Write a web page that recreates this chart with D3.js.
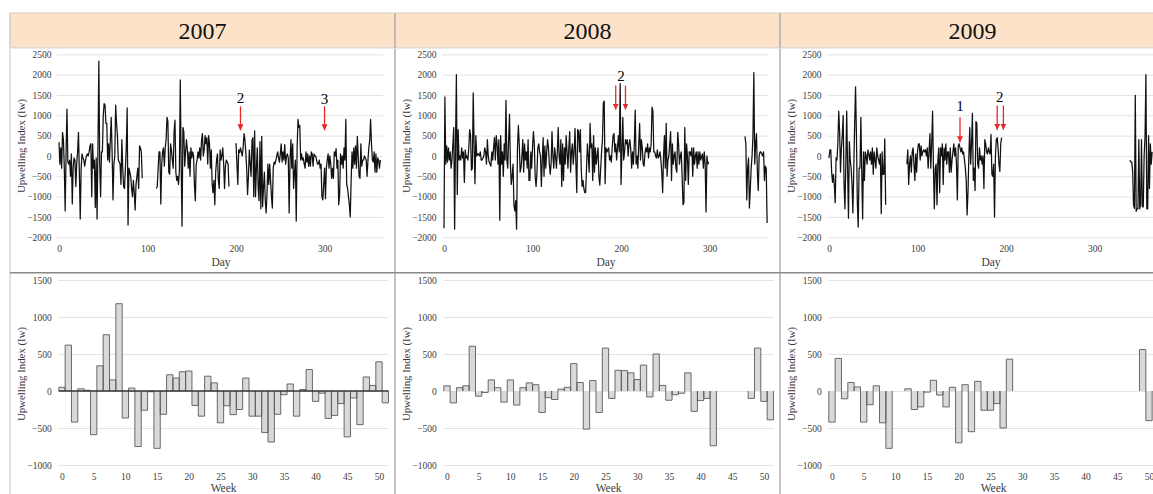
<!DOCTYPE html>
<html>
<head>
<meta charset="utf-8">
<script src="https://cdn.jsdelivr.net/npm/d3@7"></script>
<style>
  html, body { margin: 0; padding: 0; background: #fff; overflow: hidden; }
  svg { display: block; font-family: "Liberation Serif", "Times New Roman", serif; }
  svg text { font-family: "Liberation Serif", "Times New Roman", serif; }
</style>
</head>
<body>
<div id="chart"></div>
<script>
const years = [2007, 2008, 2009];

// daily upwelling index, one value per day from the segment start day
const start2007 = [0, 110, 199];
const daily2007 = [
  [340, -200, 200, -300, 580, 400, -300, -1350, 100, 1150,
   -150, -200, -100, -500, 50, -1180, -300, -50, -100, -750,
   -200, 100, 580, -400, -1550, -300, 50, -50, -100, -250,
   -100, 0, 50, 0, 100, 250, 300, -1000, 300, -300,
   -100, -1270, -50, -1550, 200, 2330, -200, -1000, 100, 100,
   1000, 1290, 1250, 800, 800, -100, 300, -150, 400, 950,
   100, -1080, -200, 0, 1250, 800, 500, -100, -150, -200,
   -700, 400, -300, -750, -800, -300, 200, 1180, -1700, -300,
   -400, -500, -800, -1000, -600, -900, -1330, -700, -500, -300,
   -800, 250, 200, 100, -550],
  [-800, -750, -300, 100, 100, -1180, -200, 100, 200, -250,
   200, 400, 950, 850, -400, -450, 300, 150, -100, -300,
   600, 880, -400, -600, -500, -700, -350, 1870, -200, -1730,
   700, 600, -250, 100, 400, 150, -300, 100, -500, 200,
   -50, 100, 0, -700, -1100, -200, -100, 100, -50, 200,
   -100, 380, 550, 0, 150, 500, 300, 450, -200, 500,
   300, -300, 150, -700, -900, -600, -1200, -400, -100, 50,
   -600, -800, 150, -100, 0, 200, -200, -800, -250, -100,
   -150, -200, -750],
  [300, 300, -200, -700, 150, 80, 200, 100, 0, 200,
   550, 400, 100, -300, -950, -500, 150, -200, -500, 380,
   450, -1000, 620, -1000, -300, 200, -800, -1100, 350, -1300,
   480, -1250, -800, -400, -1100, -1400, -900, -200, -700, -200,
   -600, -1000, -1280, -300, -150, -200, -100, 0, 100, -50,
   -150, 50, 300, -150, 100, -100, 280, -200, 0, 50,
   -50, -1400, -100, 400, -300, 300, -800, -400, -100, -1600,
   200, 900, 700, 750, -100, 50, -100, -50, -200, -300,
   100, -150, 50, -250, 0, -250, 100, 50, -250, 50,
   0, 0, -100, -200, -200, -100, -300, -200, -1000, -1080,
   -700, -300, -1050, -300, -100, 50, -300, 0, -200, -550,
   -300, -550, 100, 0, 180, -300, -100, -1200, -950, 50,
   -200, 0, -300, 200, -100, 900, -700, -800, -1000, -1200,
   -1500, -600, 100, -300, 200, -200, 250, -300, 480, 0,
   -500, -550, 300, -250, -100, -100, 0, -50, -100, -500,
   -100, 200, 400, 900, 300, -100, -150, 100, -400, 50,
   -400, -50, -100, -300, -100]
];

const start2008 = [0, 340];
const daily2008 = [
  [-1780, 1450, -200, 250, -150, 200, -100, 100, -300, -100,
   300, 700, -1800, 300, 2000, -950, 650, -100, 0, -100,
   200, -50, 100, -650, 150, -50, 0, -100, 200, 650,
   500, -350, -300, 1550, 300, -680, 500, 0, 50, 50,
   0, 100, -100, -100, -50, 0, 200, 100, -200, 400,
   0, -150, -200, -250, 100, -100, 200, 450, -100, 500,
   300, -200, 400, -1580, 500, -200, 100, -500, 300, -100,
   1370, -100, -300, 400, 1030, -200, -700, -500, -200, -1200,
   -1350, -1100, -1800, 200, 750, 300, -400, -300, 0, 400,
   -400, 300, -100, 100, -300, 400, -600, -600, 100, -300,
   200, 600, 300, -500, -750, -400, 200, 300, 100, 0,
   -750, -100, 450, -500, 250, -300, 100, 400, 200, -200,
   -450, -200, 600, 0, -300, 200, 0, -300, 100, 700,
   0, -200, 400, -750, 300, -600, 200, -200, 500, 100,
   -300, 200, 600, -400, 100, 300, -200, 100, 680, -200,
   -900, 650, 600, 100, 650, -300, -750, -600, -800, -900,
   -900, -300, 300, 0, -400, 800, 200, 300, -600, 500,
   -400, 200, -200, 0, 200, -500, -720, -300, 100, 400,
   1300, 1350, -680, 200, 100, 150, 200, -100, 0, -150,
   200, 500, 550, 100, 300, -100, 200, 500, 100, 1780,
   -700, 100, 950, -100, 100, 400, 300, 400, 0, 300,
   400, 150, -300, 100, -200, 300, 1130, -200, 0, -300,
   300, 800, -100, 400, 200, -200, -250, 50, 200, 100,
   300, -50, 200, 100, 300, 1200, 1100, 100, 100, 0,
   -50, 150, -50, 0, 100, -100, -400, -900, 0, 500,
   -300, 800, -500, -100, 0, 300, 600, -600, 300, -200,
   0, 100, -300, -400, 580, 300, -200, 0, 100, -500,
   -1200, -1150, 700, -600, 300, 0, -700, 100, 100, 0,
   200, -500, 200, -200, 0, 100, -300, 100, -200, 100,
   -100, 0, 50, -300, 100, -200, -1380, 0, -200, -150],
  [480, 300, -1080, -300, -50, -1280, -800, -300, 0, 500,
   2050, -200, 300, 550, -400, -850, 0, 100, 100, 50,
   0, 100, -600, -250, -300, -1650]
];

const start2009 = [0, 88, 340];
const daily2009 = [
  [-50, 150, 150, -400, -650, -450, -700, -1150, -50, -100,
   300, 1100, 600, -400, 200, 500, 1000, -700, -1300, -200,
   1100, -300, -1530, 350, -100, -300, -700, -1400, -300, 800,
   1700, 500, -1150, -1750, -300, -300, 950, -400, -1550, 100,
   -600, 100, 0, -200, 150, 50, -100, 100, -200, 200,
   -450, 100, -100, -300, 200, 0, -100, -200, 50, -1420,
   100, -450, -450, 420, -1200],
  [-200, 150, -700, -200, 0, -400, 100, 200, -200, -600,
   50, -400, 100, 300, 300, -100, 250, 0, 100, 150,
   100, 150, 0, 200, -300, 100, 550, -300, 300, 1100,
   -300, -1300, -300, -200, -1200, -100, 200, -900, 200, 0,
   300, -700, 200, -100, 300, -200, 100, 100, -400, 200,
   -400, -100, 100, 300, 0, 200, -200, -1080, 250, 300,
   200, 100, 200, 50, 100, -100, -300, -600, -1450, -900,
   0, 700, -200, 300, 1050, -600, -300, -850, 850, 800,
   -200, -300, 200, -100, 0, -200, 0, -800, 400, 300,
   100, 50, 200, 100, 50, 530, -450, -500, -200, -1500,
   0, 400, 450, 200, -200, -380, 300, 450],
  [-100, -150, -150, -360, -1200, -1290, 1490, -1360, -1300, -1300,
   400, -1300, -1200, 400, -1250, -1250, 0, 480, 2000, -1300,
   -1300, 500, -800, 300, -200, 100]
];

// weekly means, weeks 0..51 (null = no data)
const weekly2007 = [50, 620, -420, 30, 10, -590, 340, 760, 150, 1180,
  -365, 40, -750, -260, -10, -775, -315, 220, 175, 260,
  270, -195, -340, 200, 110, -430, -200, -320, -250, 175,
  -340, -340, -560, -690, -315, -50, 95, -340, 20, 290,
  -140, -30, -370, -330, -170, -620, -95, -455, 190, 75,
  395, -160];
const weekly2008 = [70, -160, 45, 70, 605, -70, -20, 150, 45, -150,
  150, -190, 45, 110, 85, -290, -90, -115, 25, 50,
  370, 115, -515, 140, -290, 580, -100, 280, 275, 245,
  155, 350, -80, 500, 75, -125, -50, -30, 245, -275,
  -130, -100, -740, null, null, null, null, null, -100, 580,
  -140, -390];
const weekly2009 = [-420, 440, -105, 115, 55, -420, -185, 70, -430, -775,
  null, null, 30, -250, -215, -15, 145, -55, -215, 50,
  -700, 85, -550, 130, -260, -260, -170, -500, 430, null,
  null, null, null, null, null, null, null, null, null, null,
  null, null, null, null, null, null, null, null, null, 560,
  -400, null];

const dayTicks = [0, 100, 200, 300];
const weekTicks = [0, 5, 10, 15, 20, 25, 30, 35, 40, 45, 50];
const dayYTicks = [-2000, -1500, -1000, -500, 0, 500, 1000, 1500, 2000, 2500];
const weekYTicks = [-1000, -500, 0, 500, 1000, 1500];

// red event arrows: year, day, value at tail, value at head
const arrowYear = [2007, 2007, 2008, 2008, 2009, 2009, 2009];
const arrowDay = [205, 300, 194, 205, 148, 190, 197];
const arrowFrom = [1220, 1220, 1730, 1730, 950, 1240, 1240];
const arrowTo = [630, 630, 1140, 1140, 340, 645, 645];
const noteYear = [2007, 2007, 2008, 2009, 2009];
const noteDay = [205, 300, 200, 148, 193];
const noteValue = [1415, 1390, 1956, 1218, 1446];
const noteText = ["2", "3", "2", "1", "2"];

const starts = {2007: start2007, 2008: start2008, 2009: start2009};
const daily = {2007: daily2007, 2008: daily2008, 2009: daily2009};
const weekly = {2007: weekly2007, 2008: weekly2008, 2009: weekly2009};
const zeroLine = {2007: true, 2008: false, 2009: false};

const W = 1153, H = 494;
const colX = [10, 395, 780], colW = 385;
const headTop = 13, headBot = 47.7, rowSplit = 272.7;
const serif = "Liberation Serif, Times New Roman, serif";

const svg = d3.select("#chart").append("svg")
  .attr("width", W).attr("height", H);

svg.append("defs").append("marker")
  .attr("id", "arrowhead")
  .attr("viewBox", "0 0 10 10")
  .attr("refX", 10).attr("refY", 5)
  .attr("markerUnits", "userSpaceOnUse")
  .attr("markerWidth", 6).attr("markerHeight", 6)
  .attr("orient", "auto")
  .append("path").attr("d", "M0,0L10,5L0,10z").attr("fill", "#e8272a");

// header band
svg.append("rect")
  .attr("x", colX[0]).attr("y", headTop)
  .attr("width", colW * 3).attr("height", headBot - headTop)
  .attr("fill", "#fbe2c9").attr("stroke", "#dccbbb").attr("stroke-width", 1);

// frame lines
svg.append("line").attr("x1", colX[0]).attr("x2", colX[0])
  .attr("y1", headTop).attr("y2", H).attr("stroke", "#cfcfcf").attr("stroke-width", 1.2);
[colX[1], colX[2]].forEach(x => {
  svg.append("line").attr("x1", x).attr("x2", x)
    .attr("y1", headTop).attr("y2", H).attr("stroke", "#a8a8a8").attr("stroke-width", 1.4);
});
svg.append("line").attr("x1", colX[0]).attr("x2", W)
  .attr("y1", headBot + 0.5).attr("y2", headBot + 0.5).attr("stroke", "#e6e6e6");
svg.append("line").attr("x1", colX[0]).attr("x2", W)
  .attr("y1", rowSplit).attr("y2", rowSplit).attr("stroke", "#8a8a8a").attr("stroke-width", 1.6);

const textCol = "#3c3c3c";
const gridCol = "#e3e3e3";

function styleAxis(g) {
  g.attr("font-family", serif);
  g.select(".domain").remove();
  g.selectAll(".tick text").attr("font-size", 9.5).attr("fill", textCol)
    .attr("font-family", serif);
}

years.forEach((year, k) => {
  const x0 = colX[k];

  svg.append("text")
    .attr("x", x0 + colW / 2).attr("y", 38.5)
    .attr("text-anchor", "middle")
    .attr("font-size", 24).attr("fill", "#111")
    .text(year);

  // ---------- daily line chart ----------
  const xDay = d3.scaleLinear().domain([0, 366]).range([x0 + 49, x0 + 373]);
  const yDay = d3.scaleLinear().domain([-2000, 2500]).range([237.3, 54.3]);

  const gy = svg.append("g")
    .attr("transform", `translate(${x0 + 47},0)`)
    .call(d3.axisLeft(yDay).tickValues(dayYTicks).tickFormat(d3.format("d"))
      .tickSizeInner(-(373 - 47)).tickSizeOuter(0).tickPadding(5.5));
  styleAxis(gy);
  gy.selectAll(".tick line").attr("stroke", gridCol);

  const gx = svg.append("g")
    .attr("transform", `translate(0,237.3)`)
    .call(d3.axisBottom(xDay).tickValues(dayTicks).tickFormat(d3.format("d"))
      .tickSize(0).tickPadding(7.5));
  styleAxis(gx);

  svg.append("text")
    .attr("x", (xDay.range()[0] + xDay.range()[1]) / 2).attr("y", 266)
    .attr("text-anchor", "middle").attr("font-size", 11.5).attr("fill", textCol)
    .text("Day");
  svg.append("text")
    .attr("transform", `translate(${x0 + 15},146) rotate(-90)`)
    .attr("text-anchor", "middle").attr("font-size", 10.8).attr("fill", "#3a3340")
    .text("Upwelling Index (Iw)");

  const line = d3.line()
    .x(d => xDay(d[0]))
    .y(d => yDay(d[1]));
  daily[year].forEach((vals, s) => {
    const pts = vals.map((v, i) => [starts[year][s] + i, v]);
    svg.append("path")
      .attr("d", line(pts))
      .attr("fill", "none").attr("stroke", "#111")
      .attr("stroke-width", 1.25).attr("stroke-linejoin", "round");
  });

  arrowYear.forEach((ay, i) => {
    if (ay !== year) return;
    svg.append("line")
      .attr("x1", xDay(arrowDay[i])).attr("x2", xDay(arrowDay[i]))
      .attr("y1", yDay(arrowFrom[i])).attr("y2", yDay(arrowTo[i]))
      .attr("stroke", "#e8272a").attr("stroke-width", 1.3)
      .attr("marker-end", "url(#arrowhead)");
  });
  noteYear.forEach((ny, i) => {
    if (ny !== year) return;
    svg.append("text")
      .attr("x", xDay(noteDay[i])).attr("y", yDay(noteValue[i]) + 5)
      .attr("text-anchor", "middle").attr("font-size", 15).attr("fill", "#000")
      .text(noteText[i]);
  });

  // ---------- weekly bar chart ----------
  const xWeek = d3.scaleLinear().domain([-0.5, 51.5]).range([x0 + 48.8, x0 + 378.5]);
  const yWeek = d3.scaleLinear().domain([-1000, 1500]).range([465, 280]);

  const by = svg.append("g")
    .attr("transform", `translate(${x0 + 48.3},0)`)
    .call(d3.axisLeft(yWeek).tickValues(weekYTicks).tickFormat(d3.format("d"))
      .tickSizeInner(-(378.5 - 48.3)).tickSizeOuter(0).tickPadding(6.6));
  styleAxis(by);
  by.selectAll(".tick line").attr("stroke", gridCol);

  const bx = svg.append("g")
    .attr("transform", `translate(0,465)`)
    .call(d3.axisBottom(xWeek).tickValues(weekTicks).tickFormat(d3.format("d"))
      .tickSize(0).tickPadding(7.8));
  styleAxis(bx);

  svg.append("text")
    .attr("x", (xWeek.range()[0] + xWeek.range()[1]) / 2).attr("y", 492)
    .attr("text-anchor", "middle").attr("font-size", 11.5).attr("fill", textCol)
    .text("Week");
  svg.append("text")
    .attr("transform", `translate(${x0 + 15},374) rotate(-90)`)
    .attr("text-anchor", "middle").attr("font-size", 10.8).attr("fill", "#3a3340")
    .text("Upwelling Index (Iw)");

  const wk = weekly[year].map((v, i) => ({week: i, value: v}));
  const bars = wk.filter(d => d.value !== null);
  const gb = svg.append("g");
  gb.selectAll("rect")
    .data(bars)
    .join("rect")
    .attr("x", d => xWeek(d.week - 0.5))
    .attr("width", d => xWeek(d.week + 0.5) - xWeek(d.week - 0.5))
    .attr("y", d => yWeek(Math.max(0, d.value)))
    .attr("height", d => Math.abs(yWeek(d.value) - yWeek(0)))
    .attr("fill", "#d9d9d9");

  // open outline of each bar (sides and end, no base)
  gb.selectAll("path")
    .data(bars)
    .join("path")
    .attr("d", d => {
      const l = xWeek(d.week - 0.5), r = xWeek(d.week + 0.5);
      const z = yWeek(0), v = yWeek(d.value);
      return `M${l},${z}L${l},${v}L${r},${v}L${r},${z}`;
    })
    .attr("fill", "none").attr("stroke", "#5a5a5a").attr("stroke-width", 0.9);

  if (zeroLine[year]) {
    svg.append("line")
      .attr("x1", xWeek(-0.5)).attr("x2", xWeek(51.5))
      .attr("y1", yWeek(0)).attr("y2", yWeek(0))
      .attr("stroke", "#333").attr("stroke-width", 1.5);
  }
});
</script>
</body>
</html>
